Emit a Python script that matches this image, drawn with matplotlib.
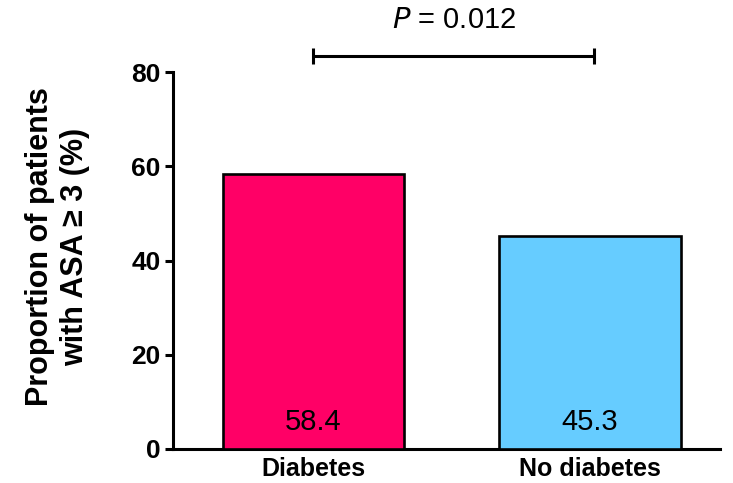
import matplotlib
matplotlib.use("Agg")
import matplotlib.pyplot as plt

plt.rcParams['font.family'] = ['Liberation Sans', 'DejaVu Sans']

categories = ["Diabetes", "No diabetes"]
values = [58.4, 45.3]
colors = ["#FF0066", "#66CCFF"]
yticks = [0, 20, 40, 60, 80]
p_text = "$\\it{P}$ = 0.012"

W, H = 733, 483
fig = plt.figure(figsize=(W / 100, H / 100), dpi=100)
ax = fig.add_axes([173 / W, 1 - 449 / H, (720 - 173) / W, (449 - 72) / H])

x = list(range(len(categories)))
ax.bar(x, values, width=0.655, color=colors, edgecolor="black", linewidth=1.9, zorder=3)

for xi, v in zip(x, values):
    ax.text(xi, 5.8, f"{v:.1f}", ha="center", va="center", fontsize=21, color="black", zorder=4)

ax.set_xlim(-0.508, 1.47)
ax.set_ylim(0, 80)
ax.set_yticks(yticks)
ax.set_yticklabels([str(t) for t in yticks], fontsize=19, fontweight="bold")
ax.set_xticks(x)
ax.set_xticklabels(categories, fontsize=18, fontweight="bold")
ax.tick_params(axis="x", length=0, pad=6)
ax.tick_params(axis="y", length=6, width=2.2, pad=3)

for s in ["top", "right"]:
    ax.spines[s].set_visible(False)
for s in ["left", "bottom"]:
    ax.spines[s].set_linewidth(2.2)

# significance bracket
yb = 83.4
x_left, x_right = x[0], x[1] + 0.015
ax.plot([x_left, x_right], [yb, yb], color="black", lw=2.2, clip_on=False, solid_capstyle="butt")
for xe in (x_left, x_right):
    ax.plot([xe, xe], [yb - 1.6, yb + 1.6], color="black", lw=2.2, clip_on=False, solid_capstyle="butt")
ax.text((x_left + x_right) / 2, 91.0, p_text, ha="center", va="center", fontsize=21, clip_on=False)

fig.text(58 / W, 1 - 247 / H, "Proportion of patients\nwith ASA \u2265 3 (%)", rotation=90,
         ha="center", va="center", fontsize=22, fontweight="bold", linespacing=1.22)

fig.savefig("out.png", dpi=100)
